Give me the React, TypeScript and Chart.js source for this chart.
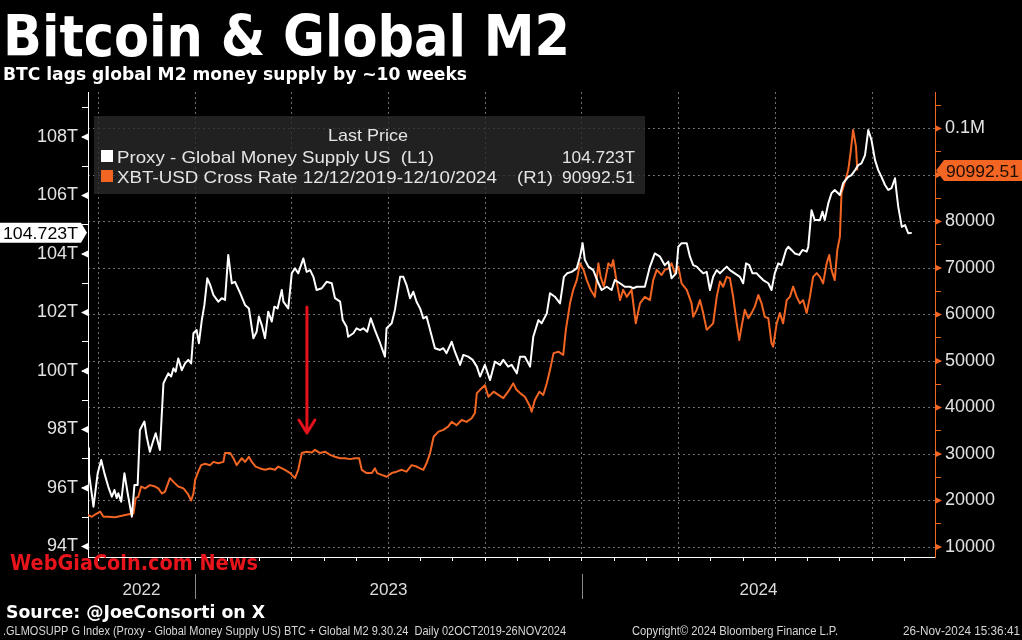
import React, { useEffect, useRef } from 'react';
import { Chart, registerables } from 'chart.js';

Chart.register(...registerables);

// x values: months since 1 Jan 2022 (12 = Jan 2023, 24 = Jan 2024)
const m2Months = [
  8.68, 8.71, 8.85, 8.98, 9.09, 9.19, 9.31, 9.42, 9.50, 9.57,
  9.62, 9.71, 9.81, 9.91, 10.04, 10.12, 10.22, 10.29, 10.43, 10.50,
  10.60, 10.71, 10.78, 10.91, 11.02, 11.17, 11.26, 11.33, 11.40, 11.48,
  11.59, 11.69, 11.79, 11.88, 11.95, 12.05, 12.12, 12.21, 12.29, 12.38,
  12.47, 12.57, 12.72, 12.83, 12.93, 13.03, 13.14, 13.24, 13.40, 13.55,
  13.67, 13.81, 13.91, 13.98, 14.07, 14.17, 14.27, 14.38, 14.46, 14.56,
  14.69, 14.74, 14.89, 15.00, 15.10, 15.20, 15.36, 15.46, 15.57, 15.67,
  15.77, 15.93, 16.08, 16.24, 16.34, 16.50, 16.58, 16.70, 16.75, 16.91,
  17.01, 17.12, 17.22, 17.34, 17.45, 17.58, 17.74, 17.89, 17.94, 18.10,
  18.20, 18.36, 18.46, 18.56, 18.67, 18.77, 18.87, 18.98, 19.08, 19.18,
  19.29, 19.44, 19.60, 19.70, 19.80, 19.96, 20.06, 20.22, 20.32, 20.47,
  20.61, 20.74, 20.84, 20.99, 21.15, 21.30, 21.46, 21.56, 21.71, 21.82,
  21.98, 22.08, 22.23, 22.39, 22.49, 22.65, 22.75, 22.91, 23.01, 23.16,
  23.32, 23.44, 23.54, 23.68, 23.84, 23.94, 24.02, 24.09, 24.20, 24.35,
  24.51, 24.61, 24.77, 24.92, 25.02, 25.18, 25.33, 25.49, 25.59, 25.70,
  25.85, 25.95, 26.11, 26.26, 26.42, 26.57, 26.68, 26.78, 26.92, 26.99,
  27.09, 27.25, 27.35, 27.45, 27.56, 27.66, 27.76, 27.87, 27.97, 28.07,
  28.18, 28.28, 28.38, 28.49, 28.59, 28.74, 28.90, 29.00, 29.09, 29.19,
  29.29, 29.42, 29.52, 29.62, 29.78, 29.88, 29.98, 30.09, 30.19, 30.33,
  30.40, 30.50, 30.60, 30.74, 30.84, 30.97, 31.02, 31.12, 31.22, 31.38,
  31.46, 31.53, 31.64, 31.74, 31.84, 32.00, 32.10, 32.26, 32.36, 32.47,
  32.57, 32.67, 32.78, 32.88, 32.98, 33.09, 33.19, 33.29, 33.40, 33.50,
  33.60, 33.71, 33.76, 33.81, 33.92, 34.02, 34.12, 34.23,
];

// Proxy - Global Money Supply US, trillions USD (left axis)
const m2Values = [
  97.36, 96.51, 95.36, 96.50, 96.96, 96.50, 96.04, 95.70, 95.93, 95.66,
  95.82, 95.53, 96.50, 95.82, 95.02, 96.10, 96.10, 97.98, 98.27, 97.75,
  97.24, 97.64, 97.87, 97.30, 99.58, 99.92, 99.81, 100.09, 99.98, 100.43,
  100.03, 100.26, 100.38, 100.26, 101.29, 101.40, 100.95, 101.74, 102.26, 103.17,
  102.94, 102.60, 102.37, 102.49, 102.43, 103.97, 103.00, 103.05, 102.66, 102.26,
  102.14, 101.12, 101.34, 101.86, 101.57, 101.12, 102.03, 101.69, 102.20, 102.14,
  102.77, 102.37, 102.14, 103.34, 103.51, 103.34, 103.85, 103.39, 103.45, 103.22,
  102.77, 102.83, 103.05, 103.00, 102.49, 102.37, 101.74, 101.51, 101.17, 101.29,
  101.46, 101.40, 101.46, 101.34, 101.80, 101.40, 100.95, 100.49, 101.46, 101.63,
  102.09, 103.22, 103.22, 102.94, 102.49, 102.71, 102.37, 102.14, 101.80, 101.86,
  101.40, 100.78, 100.72, 100.78, 100.61, 101.00, 100.66, 100.21, 100.55, 100.49,
  100.38, 100.15, 99.81, 100.21, 99.69, 100.32, 100.21, 100.38, 100.15, 100.21,
  99.92, 100.49, 100.49, 100.15, 101.17, 101.74, 101.63, 101.97, 102.66, 102.54,
  102.31, 103.22, 103.34, 103.39, 103.51, 103.91, 104.37, 103.80, 103.57, 103.45,
  103.00, 102.77, 102.88, 102.77, 103.11, 103.00, 102.88, 102.88, 102.83, 102.88,
  102.88, 102.88, 103.57, 104.02, 103.91, 103.62, 103.74, 103.17, 103.34, 104.25,
  104.37, 104.37, 103.91, 103.62, 103.57, 103.45, 103.34, 103.39, 102.77, 103.22,
  103.45, 103.34, 103.45, 103.57, 103.45, 103.34, 103.22, 103.00, 103.68, 103.62,
  103.34, 103.34, 103.22, 103.11, 103.00, 102.77, 103.34, 103.68, 103.62, 104.14,
  104.25, 104.14, 104.02, 103.97, 104.14, 104.08, 104.25, 105.50, 105.16, 105.16,
  105.45, 105.16, 105.73, 106.08, 106.19, 106.02, 106.42, 106.64, 106.70, 106.87,
  107.04, 107.10, 107.38, 108.24, 107.90, 107.21, 106.87, 106.64, 106.36, 106.19,
  106.25, 106.59, 106.08, 105.62, 104.93, 104.99, 104.71, 104.723,
];

const btcMonths = [
  8.68, 8.80, 8.95, 9.06, 9.16, 9.31, 9.52, 9.73, 9.98, 10.09,
  10.16, 10.24, 10.33, 10.45, 10.60, 10.76, 10.86, 10.97, 11.07, 11.22,
  11.33, 11.48, 11.64, 11.77, 11.88, 11.95, 12.00, 12.10, 12.19, 12.31,
  12.47, 12.57, 12.72, 12.88, 12.93, 13.09, 13.19, 13.29, 13.45, 13.55,
  13.67, 13.76, 13.88, 14.02, 14.17, 14.33, 14.48, 14.58, 14.79, 14.95,
  15.10, 15.20, 15.31, 15.46, 15.62, 15.72, 15.88, 16.03, 16.19, 16.34,
  16.50, 16.65, 16.81, 16.96, 17.09, 17.17, 17.32, 17.48, 17.58, 17.65,
  17.79, 17.94, 18.10, 18.25, 18.41, 18.56, 18.72, 18.87, 18.98, 19.08,
  19.18, 19.29, 19.40, 19.55, 19.70, 19.85, 19.96, 20.11, 20.27, 20.42,
  20.58, 20.68, 20.74, 20.84, 20.99, 21.10, 21.26, 21.41, 21.56, 21.71,
  21.87, 21.97, 22.08, 22.23, 22.39, 22.44, 22.54, 22.68, 22.80, 22.91,
  23.01, 23.12, 23.27, 23.42, 23.50, 23.63, 23.73, 23.84, 23.94, 24.05,
  24.15, 24.27, 24.40, 24.51, 24.58, 24.68, 24.82, 24.92, 24.97, 25.05,
  25.18, 25.28, 25.39, 25.54, 25.67, 25.80, 25.95, 26.11, 26.21, 26.32,
  26.47, 26.57, 26.68, 26.78, 26.88, 26.99, 27.09, 27.25, 27.40, 27.45,
  27.56, 27.66, 27.76, 27.87, 27.97, 28.07, 28.18, 28.28, 28.38, 28.49,
  28.59, 28.69, 28.80, 28.88, 28.95, 29.05, 29.16, 29.26, 29.36, 29.47,
  29.57, 29.67, 29.78, 29.88, 29.93, 30.04, 30.14, 30.24, 30.35, 30.45,
  30.55, 30.66, 30.76, 30.86, 30.97, 31.07, 31.17, 31.28, 31.38, 31.48,
  31.59, 31.67, 31.74, 31.84, 31.92, 32.00, 32.05, 32.16, 32.26, 32.33,
  32.41, 32.50, 32.54,
];

// XBT-USD cross rate (right axis)
const btcValues = [
  16900, 16500, 17200, 17600, 16500, 16500, 16400, 16700, 17100, 17200,
  20500, 20800, 23000, 22600, 23300, 23000, 22600, 21500, 21900, 24800,
  24000, 23000, 22600, 21500, 20000, 21500, 24400, 26200, 27600, 27900,
  27600, 28300, 28000, 28300, 30200, 30200, 29100, 27600, 29100, 28300,
  29400, 28300, 27300, 26900, 26600, 26900, 26600, 27300, 26600, 25900,
  24800, 26600, 30200, 30500, 30300, 30900, 30200, 30500, 29800, 29400,
  29100, 29100, 28900, 29100, 29100, 26600, 25900, 25900, 26900, 25900,
  25500, 25100, 25900, 26200, 26600, 26200, 27600, 27300, 26900, 26600,
  28000, 30200, 33700, 34800, 35200, 35900, 36900, 36200, 37300, 36900,
  37700, 38800, 43100, 43800, 44800, 42300, 43400, 42700, 42000, 43400,
  45200, 43800, 43100, 42300, 40200, 39100, 41600, 43400, 42700, 45200,
  48100, 51700, 52000, 51300, 56700, 62400, 65300, 67400, 71000, 69600,
  67400, 65300, 63800, 71000, 68100, 66000, 71000, 70300, 71700, 68100,
  63100, 65300, 63800, 65300, 58100, 62400, 63800, 63100, 67400, 69600,
  68500, 69600, 69900, 71000, 68900, 70300, 66700, 65300, 62400, 59500,
  61000, 63100, 60300, 56700, 57400, 58100, 63800, 67100, 66000, 68100,
  67800, 63800, 58100, 54500, 57400, 61000, 59200, 60300, 61700, 64200,
  62400, 59500, 59200, 53800, 53100, 58100, 60300, 58100, 63100, 63800,
  66000, 63800, 62400, 63100, 60300, 63800, 68100, 68900, 68100, 66700,
  71000, 72800, 69600, 67400, 73900, 76700, 86100, 88600, 91100, 94700,
  99700, 96100, 90992.51,
];

const yearLabels = ['2022', '2023', '2024'];
const yearStarts = [0, 12, 24];

// right axis ticks (minor every 5000, labelled every 10000)
const rightTicks = [
  10000, 15000, 20000, 25000, 30000, 35000, 40000, 45000, 50000, 55000,
  60000, 65000, 70000, 75000, 80000, 85000, 90000, 95000, 100000, 105000,
];

const leftAxis = { min: 93.64, max: 109.54, step: 1 };
const rightAxis = { min: 7850, max: 107850 };
const xAxis = { min: 8.68, max: 34.95 };

// red annotation arrow (x in months, y in XBT-USD)
const arrowMonth = 15.47;
const arrowFrom = 61600;
const arrowTo = 34500;

const WHITE = '#ffffff';
const ORANGE = '#f26522';
const GRID = 'rgba(150,150,150,0.75)';
const LABEL = '#e2e2e2';
const FONT = '"Liberation Sans", Arial, sans-serif';
const HEAD = '"DejaVu Sans", Verdana, sans-serif';

function fitText(
  ctx: CanvasRenderingContext2D,
  text: string,
  x: number,
  baseline: number,
  width: number,
  font: string,
  color: string,
  align: 'left' | 'right' | 'center' = 'left'
) {
  ctx.save();
  ctx.font = font;
  ctx.fillStyle = color;
  ctx.textAlign = 'left';
  ctx.textBaseline = 'alphabetic';
  const w = ctx.measureText(text).width || 1;
  const sx = width / w;
  const left = align === 'left' ? x : align === 'right' ? x - width : x - width / 2;
  ctx.translate(left, baseline);
  ctx.scale(sx, 1);
  ctx.fillText(text, 0, 0);
  ctx.restore();
}

function rightLabel(v: number) {
  const r = Math.round(v);
  if (r % 10000 !== 0) return '';
  return r === 100000 ? '0.1M' : String(r);
}

const overlayPlugin = {
  id: 'overlay',
  afterDraw(chart: any) {
    const ctx: CanvasRenderingContext2D = chart.ctx;
    const { left, right, bottom } = chart.chartArea;
    const xs = chart.scales.x;
    const yL = chart.scales.y;
    const yR = chart.scales.y1;

    // axis tick triangles
    ctx.save();
    ctx.fillStyle = WHITE;
    yL.ticks.forEach((t: any) => {
      if (Math.round(t.value) % 2 !== 0) return;
      const py = yL.getPixelForValue(t.value);
      ctx.beginPath();
      ctx.moveTo(left - 7, py);
      ctx.lineTo(left, py - 3.5);
      ctx.lineTo(left, py + 3.5);
      ctx.closePath();
      ctx.fill();
    });
    ctx.fillStyle = ORANGE;
    yR.ticks.forEach((t: any) => {
      if (!rightLabel(t.value)) return;
      const py = yR.getPixelForValue(t.value);
      ctx.beginPath();
      ctx.moveTo(right + 7, py);
      ctx.lineTo(right, py - 3.5);
      ctx.lineTo(right, py + 3.5);
      ctx.closePath();
      ctx.fill();
    });
    ctx.restore();

    // year separators and labels
    ctx.save();
    ctx.strokeStyle = '#8a8a8a';
    ctx.lineWidth = 1;
    yearStarts.forEach((start, i) => {
      const a = Math.max(start, xs.min);
      const b = Math.min(start + 12, xs.max);
      if (i > 0) {
        const px = Math.round(xs.getPixelForValue(start)) + 0.5;
        ctx.beginPath();
        ctx.moveTo(px, bottom + 17);
        ctx.lineTo(px, bottom + 42);
        ctx.stroke();
      }
      const cx = xs.getPixelForValue((a + b) / 2);
      fitText(ctx, yearLabels[i], cx, bottom + 38, 38, `17px ${FONT}`, '#dcdcdc', 'center');
    });
    ctx.restore();

    // red arrow
    ctx.save();
    const ax = xs.getPixelForValue(arrowMonth);
    const ay0 = yR.getPixelForValue(arrowFrom);
    const ay1 = yR.getPixelForValue(arrowTo);
    ctx.strokeStyle = '#e3121c';
    ctx.lineWidth = 3;
    ctx.lineCap = 'round';
    ctx.lineJoin = 'round';
    ctx.beginPath();
    ctx.moveTo(ax, ay0);
    ctx.lineTo(ax, ay1);
    ctx.moveTo(ax - 8, ay1 - 13);
    ctx.lineTo(ax, ay1);
    ctx.lineTo(ax + 8, ay1 - 13);
    ctx.stroke();
    ctx.restore();

    // legend box
    ctx.save();
    ctx.fillStyle = 'rgba(42,42,42,0.78)';
    ctx.fillRect(94, 116, 551, 78);
    fitText(ctx, 'Last Price', 368, 141, 80, `17px ${FONT}`, '#e4e4e4', 'center');
    ctx.fillStyle = WHITE;
    ctx.fillRect(101, 150, 12, 12);
    ctx.fillStyle = ORANGE;
    ctx.fillRect(101, 170, 12, 12);
    fitText(ctx, 'Proxy - Global Money Supply US  (L1)', 117, 162.5, 317, `17px ${FONT}`, '#e4e4e4');
    fitText(ctx, `${m2Values[m2Values.length - 1].toFixed(3)}T`, 635, 162.5, 73, `17px ${FONT}`, '#e4e4e4', 'right');
    fitText(ctx, 'XBT-USD Cross Rate 12/12/2019-12/10/2024', 117, 182.5, 380, `17px ${FONT}`, '#e4e4e4');
    fitText(ctx, '(R1)', 517, 182.5, 36, `17px ${FONT}`, '#e4e4e4');
    fitText(ctx, btcValues[btcValues.length - 1].toFixed(2), 635, 182.5, 73, `17px ${FONT}`, '#e4e4e4', 'right');
    ctx.restore();

    // last value tags
    ctx.save();
    const lv = m2Values[m2Values.length - 1];
    const ly = yL.getPixelForValue(lv);
    ctx.fillStyle = WHITE;
    ctx.beginPath();
    ctx.moveTo(0, ly - 10);
    ctx.lineTo(81, ly - 10);
    ctx.lineTo(87, ly);
    ctx.lineTo(81, ly + 10);
    ctx.lineTo(0, ly + 10);
    ctx.closePath();
    ctx.fill();
    fitText(ctx, `${lv.toFixed(3)}T`, 3, ly + 6.5, 75, `17px ${FONT}`, '#000000');
    const rv = btcValues[btcValues.length - 1];
    const ry = yR.getPixelForValue(rv);
    ctx.fillStyle = ORANGE;
    ctx.beginPath();
    ctx.moveTo(right + 1, ry);
    ctx.lineTo(right + 9, ry - 10.5);
    ctx.lineTo(1022, ry - 10.5);
    ctx.lineTo(1022, ry + 10.5);
    ctx.lineTo(right + 9, ry + 10.5);
    ctx.closePath();
    ctx.fill();
    fitText(ctx, rv.toFixed(2), right + 11, ry + 6.5, 73, `17px ${FONT}`, '#1e0e04');
    ctx.restore();

    // titles and footer
    fitText(ctx, 'Bitcoin & Global M2', 3, 56, 567, `bold 57px ${HEAD}`, WHITE);
    fitText(ctx, 'BTC lags global M2 money supply by ~10 weeks', 3, 80, 464, `bold 18px ${HEAD}`, WHITE);
    fitText(ctx, 'WebGiaCoin.com News', 10, 570, 248, `bold 22px ${HEAD}`, '#e8141c');
    fitText(ctx, 'Source: @JoeConsorti on X', 6, 618, 259, `bold 18px ${HEAD}`, WHITE);
    fitText(
      ctx,
      '.GLMOSUPP G Index (Proxy - Global Money Supply US) BTC + Global M2 9.30.24  Daily 02OCT2019-26NOV2024',
      3, 635, 563, `12px ${FONT}`, '#d6d6d6'
    );
    fitText(ctx, 'Copyright\u00a9 2024 Bloomberg Finance L.P.', 632, 635, 206, `12px ${FONT}`, '#d6d6d6');
    fitText(ctx, '26-Nov-2024 15:36:41', 903, 635, 117, `12px ${FONT}`, '#d6d6d6');
  },
};

export default function App() {
  const ref = useRef<HTMLCanvasElement | null>(null);

  useEffect(() => {
    if (!ref.current) return;
    const m2Data = m2Months.map((m, i) => ({ x: m, y: m2Values[i] }));
    const btcData = btcMonths.map((m, i) => ({ x: m, y: btcValues[i] }));
    const tickFont = { family: FONT, size: 18 };

    const chart = new Chart(ref.current, {
      type: 'line',
      data: {
        datasets: [
          {
            label: 'Proxy - Global Money Supply US (L1)',
            data: m2Data,
            yAxisID: 'y',
            borderColor: WHITE,
            borderWidth: 2,
            pointRadius: 0,
            borderJoinStyle: 'round',
            tension: 0,
            order: 0,
          },
          {
            label: 'XBT-USD Cross Rate (R1)',
            data: btcData,
            yAxisID: 'y1',
            borderColor: ORANGE,
            borderWidth: 2,
            pointRadius: 0,
            borderJoinStyle: 'round',
            tension: 0,
            order: 1,
          },
        ],
      },
      options: {
        responsive: false,
        maintainAspectRatio: false,
        animation: false,
        layout: { padding: { top: 92, left: 0, right: 0, bottom: 0 } },
        plugins: {
          legend: { display: false },
          tooltip: { enabled: false },
          title: { display: false },
        },
        scales: {
          x: {
            type: 'linear',
            min: xAxis.min,
            max: xAxis.max,
            afterFit: (s: any) => {
              s.height = 83;
            },
            ticks: { stepSize: 1, includeBounds: false, display: false },
            grid: {
              color: (c: any) =>
                c.tick && Math.round(c.tick.value) % 3 === 0 ? GRID : 'transparent',
              lineWidth: 1,
              drawTicks: true,
              tickLength: 4,
              tickColor: WHITE,
            },
            border: { display: true, color: WHITE, width: 1, dash: [2, 3] },
          },
          y: {
            type: 'linear',
            position: 'left',
            min: leftAxis.min,
            max: leftAxis.max,
            afterFit: (s: any) => {
              s.width = 88;
            },
            ticks: {
              stepSize: leftAxis.step,
              includeBounds: false,
              autoSkip: false,
              color: LABEL,
              font: tickFont,
              padding: 4,
              callback: (v: any) => (Math.round(v) % 2 === 0 ? `${Math.round(v)}T` : ''),
            },
            grid: {
              drawOnChartArea: false,
              drawTicks: true,
              tickLength: 6,
              tickColor: WHITE,
            },
            border: { display: true, color: WHITE, width: 1 },
          },
          y1: {
            type: 'linear',
            position: 'right',
            min: rightAxis.min,
            max: rightAxis.max,
            afterBuildTicks: (s: any) => {
              s.ticks = rightTicks.map((v) => ({ value: v }));
            },
            afterFit: (s: any) => {
              s.width = 87;
            },
            ticks: {
              autoSkip: false,
              color: LABEL,
              font: tickFont,
              padding: 4,
              callback: (v: any) => rightLabel(v),
            },
            grid: {
              drawOnChartArea: true,
              color: (c: any) =>
                c.tick && Math.round(c.tick.value) % 10000 === 0 ? GRID : 'transparent',
              lineWidth: 1,
              drawTicks: true,
              tickLength: 6,
              tickColor: ORANGE,
            },
            border: { display: true, color: ORANGE, width: 1, dash: [2, 3] },
          },
        },
      },
      plugins: [overlayPlugin],
    } as any);

    return () => chart.destroy();
  }, []);

  return (
    <div
      style={{
        position: 'absolute',
        left: 0,
        top: 0,
        width: 1022,
        height: 640,
        background: '#000000',
        overflow: 'hidden',
      }}
    >
      <canvas ref={ref} width={1022} height={640} style={{ display: 'block' }} />
    </div>
  );
}
